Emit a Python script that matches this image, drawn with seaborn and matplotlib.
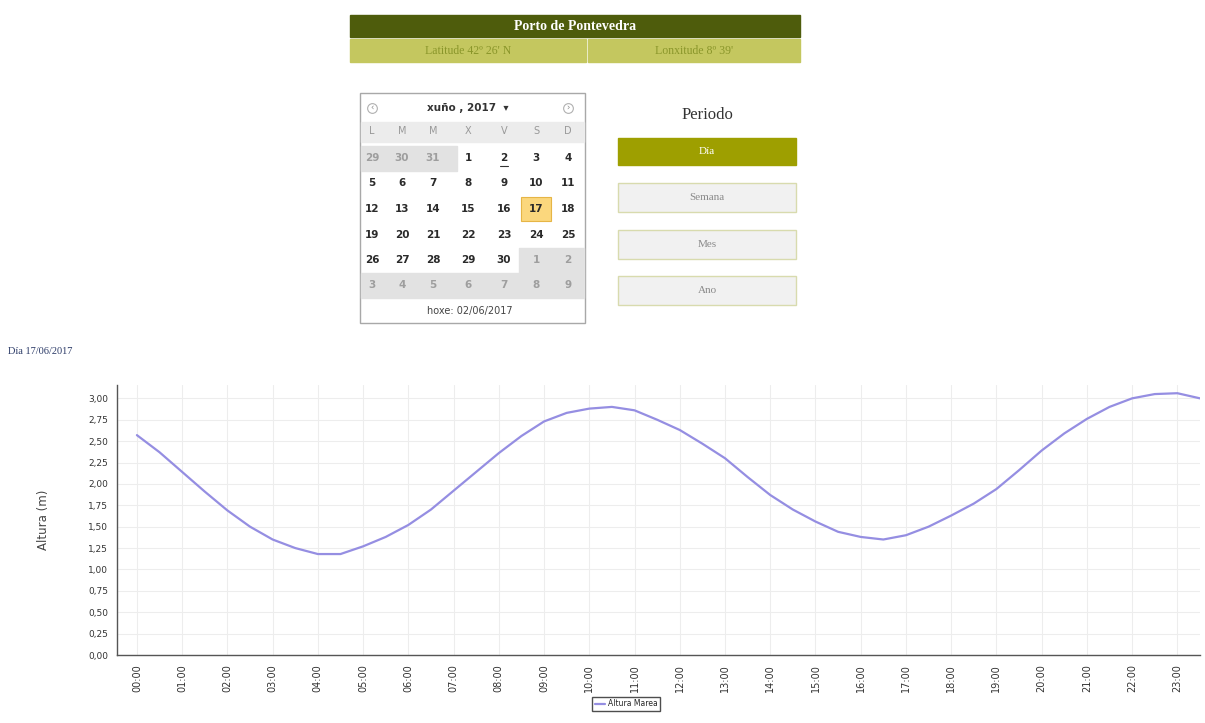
# -*- coding: utf-8 -*-
# Mareas - Porto de Pontevedra, 17/06/2017

import pandas as pd
import matplotlib.pyplot as plt
from matplotlib.patches import Rectangle
from matplotlib.ticker import FuncFormatter, MultipleLocator
import seaborn as sns

#%%
# data (half-hour steps)

hora = [0.0, 0.5, 1.0, 1.5, 2.0, 2.5, 3.0, 3.5, 4.0, 4.5, 5.0, 5.5,
        6.0, 6.5, 7.0, 7.5, 8.0, 8.5, 9.0, 9.5, 10.0, 10.5, 11.0, 11.5,
        12.0, 12.5, 13.0, 13.5, 14.0, 14.5, 15.0, 15.5, 16.0, 16.5, 17.0, 17.5,
        18.0, 18.5, 19.0, 19.5, 20.0, 20.5, 21.0, 21.5, 22.0, 22.5, 23.0, 23.5]

altura = [2.57, 2.37, 2.14, 1.91, 1.69, 1.50, 1.35, 1.25, 1.18, 1.18, 1.27, 1.38,
          1.52, 1.70, 1.92, 2.14, 2.36, 2.56, 2.73, 2.83, 2.88, 2.90, 2.86, 2.75,
          2.63, 2.47, 2.30, 2.08, 1.87, 1.70, 1.56, 1.44, 1.38, 1.35, 1.40, 1.50,
          1.63, 1.77, 1.94, 2.16, 2.39, 2.59, 2.76, 2.90, 3.00, 3.05, 3.06, 3.00]

hour_ticks = list(range(24))
hour_labels = ['00:00', '01:00', '02:00', '03:00', '04:00', '05:00', '06:00', '07:00',
               '08:00', '09:00', '10:00', '11:00', '12:00', '13:00', '14:00', '15:00',
               '16:00', '17:00', '18:00', '19:00', '20:00', '21:00', '22:00', '23:00']

week_days = ['L', 'M', 'M', 'X', 'V', 'S', 'D']
weeks = [['29', '30', '31', '1', '2', '3', '4'],
         ['5', '6', '7', '8', '9', '10', '11'],
         ['12', '13', '14', '15', '16', '17', '18'],
         ['19', '20', '21', '22', '23', '24', '25'],
         ['26', '27', '28', '29', '30', '1', '2'],
         ['3', '4', '5', '6', '7', '8', '9']]

df = pd.DataFrame({'hora': hora, 'altura': altura})

#%%

sns.set_style('white')
plt.rcParams['font.family'] = ['DejaVu Sans']

fig = plt.figure(figsize=(12.05, 7.23), dpi=100)

# page elements drawn in pixel coordinates
ui = fig.add_axes([0, 0, 1, 1])
ui.set_xlim(0, 1205)
ui.set_ylim(723, 0)
ui.axis('off')

serif = 'Liberation Serif'

# header
ui.add_patch(Rectangle((350, 15), 450, 22, color='#4e5c0c'))
ui.text(575, 26, 'Porto de Pontevedra', color='white', weight='bold',
        family=serif, size=10, ha='center', va='center')
ui.add_patch(Rectangle((350, 39), 236, 23, color='#c4c75f'))
ui.add_patch(Rectangle((588, 39), 212, 23, color='#c4c75f'))
ui.text(468, 51, "Latitude 42º 26' N", color='#8a962a', family=serif,
        size=8.5, ha='center', va='center')
ui.text(694, 51, "Lonxitude 8º 39'", color='#8a962a', family=serif,
        size=8.5, ha='center', va='center')

# calendar
ui.add_patch(Rectangle((360, 93), 225, 230, fill=False, edgecolor='#a8a8a8', lw=1))
ui.plot([372, 568], [108, 108], 'o', ms=7, mfc='white', mec='#b0b0b0', mew=0.8)
ui.text(372, 108.5, '‹', size=6, color='#888', ha='center', va='center')
ui.text(568, 108.5, '›', size=6, color='#888', ha='center', va='center')
ui.text(468, 108, 'xuño , 2017  ▾', weight='bold', size=7.5, color='#333',
        ha='center', va='center')

ui.add_patch(Rectangle((361, 122), 223, 20, color='#ececec'))
ui.add_patch(Rectangle((361, 146), 96, 25, color='#e2e2e2'))
ui.add_patch(Rectangle((519, 248), 65, 25, color='#e2e2e2'))
ui.add_patch(Rectangle((361, 273), 223, 25, color='#e2e2e2'))
ui.add_patch(Rectangle((521, 197), 30, 24, facecolor='#fbd77d', edgecolor='#e6b546', lw=0.8))

col_x = [372, 402, 433, 468, 504, 536, 568]
row_y = [158, 183, 209, 235, 260, 285]
for x, d in zip(col_x, week_days):
    ui.text(x, 131, d, size=7, color='#999', ha='center', va='center')
for r, week in enumerate(weeks):
    for c, d in enumerate(week):
        out = (r == 0 and c < 3) or (r == 4 and c > 4) or r == 5
        ui.text(col_x[c], row_y[r], d, size=7.5, weight='bold',
                color='#9e9e9e' if out else '#2a2a2a',
                ha='center', va='center')
ui.plot([500, 508], [166, 166], color='#333', lw=0.8)
ui.text(470, 311, 'hoxe: 02/06/2017', size=7, color='#444', ha='center', va='center')

# period buttons
ui.text(707, 115, 'Periodo', family=serif, size=12, color='#333',
        ha='center', va='center')
ui.add_patch(Rectangle((618, 138), 178, 27, color='#9e9f00'))
ui.text(707, 151, 'Día', family=serif, size=8, color='white', ha='center', va='center')
for y, name in zip([183, 230, 276], ['Semana', 'Mes', 'Ano']):
    ui.add_patch(Rectangle((618, y), 178, 29, facecolor='#f1f1f1',
                           edgecolor='#d8dbae', lw=1))
    ui.text(707, y + 14.5, name, family=serif, size=8, color='#8a8a8a',
            ha='center', va='center')

ui.text(8, 352, 'Día 17/06/2017', family=serif, size=7.5, color='#2b3a67',
        ha='left', va='center')

#%%
# tide chart

ax = fig.add_axes([117 / 1205, 1 - 655 / 723, (1200 - 117) / 1205, (655 - 385) / 723])

sns.lineplot(data=df, x='hora', y='altura', ax=ax, color='#958ee2',
             lw=1.6, label='Altura Marea')

ax.set_xlim(-0.44, 23.5)
ax.set_ylim(0, 3.156)
ax.set_xticks(hour_ticks)
ax.set_xticklabels(hour_labels, rotation=90, fontsize=7, color='#333')
ax.yaxis.set_major_locator(MultipleLocator(0.25))
ax.yaxis.set_major_formatter(FuncFormatter(lambda v, p: ('%.2f' % v).replace('.', ',')))
ax.tick_params(axis='y', labelsize=6.5, labelcolor='#333')
ax.tick_params(length=3, color='#777', width=0.8)

ax.grid(True, color='#ededed', lw=0.8)
ax.set_axisbelow(True)
for side in ['top', 'right']:
    ax.spines[side].set_visible(False)
for side in ['left', 'bottom']:
    ax.spines[side].set_color('#555')
    ax.spines[side].set_linewidth(1)

ax.set_xlabel('')
ax.set_ylabel('Altura (m)', fontsize=8.5, color='#444')
ax.yaxis.set_label_coords(-0.062, 0.5)

ax.legend(loc='center', bbox_to_anchor=(626 / 1205, 1 - 704 / 723),
          bbox_transform=fig.transFigure, fontsize=5.5, frameon=True,
          fancybox=False, edgecolor='#222', handlelength=1.3,
          borderpad=0.35, handletextpad=0.4)

fig.savefig('out.png', dpi=100)
